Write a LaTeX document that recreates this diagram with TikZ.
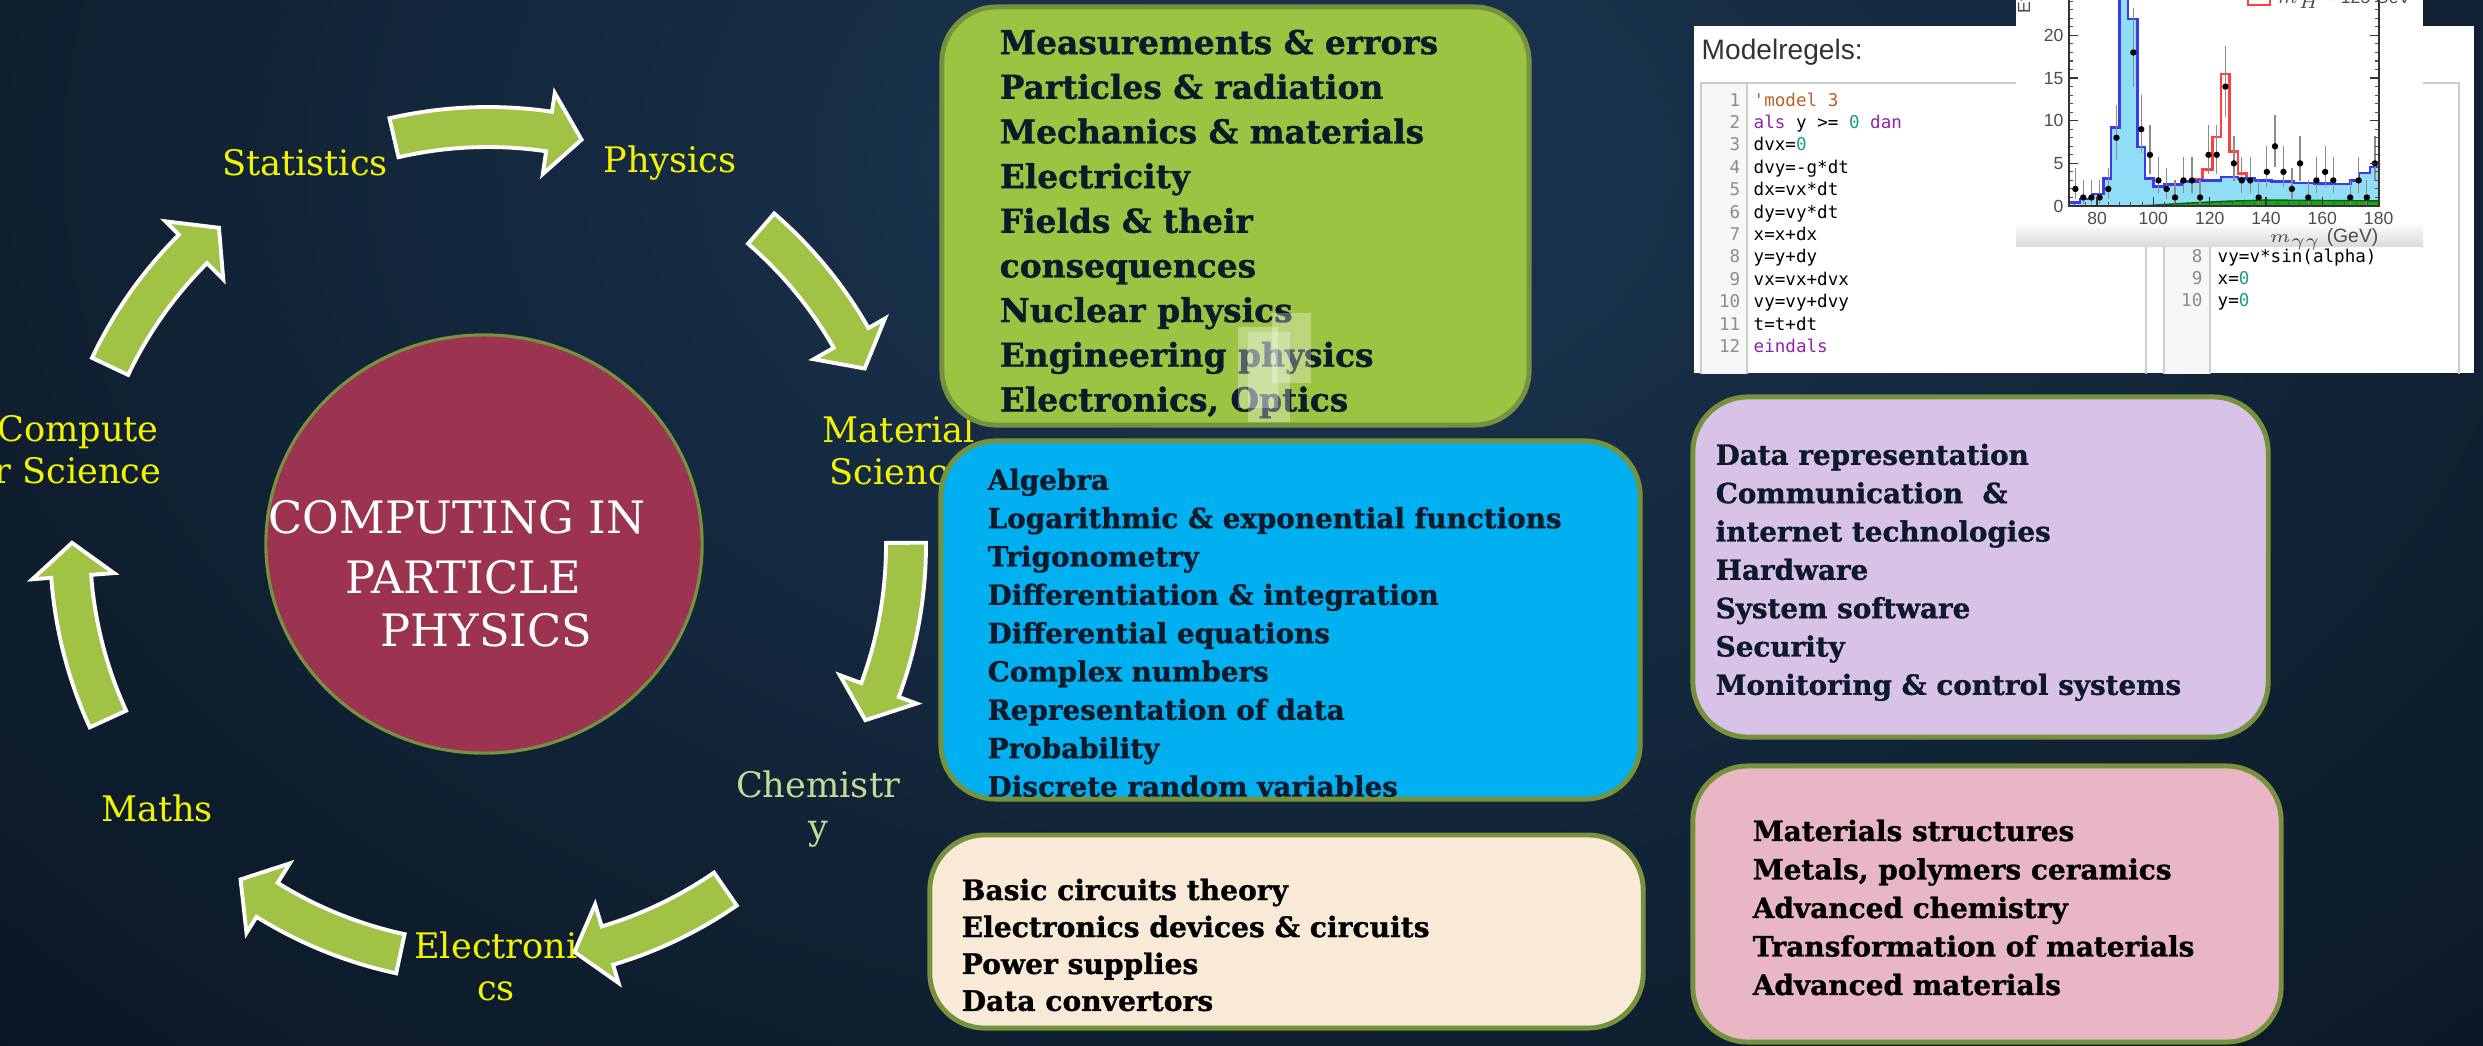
\documentclass[tikz,border=0pt]{standalone}
\usepackage{fontspec}
\setmainfont{DejaVu Serif}
\newfontfamily\heavyserif{DejaVu Serif}[FakeBold=1.0]
\newfontfamily\uisans{Liberation Sans}
\newfontfamily\codefont{DejaVu Sans Mono}[Ligatures=TeXOff]
\usetikzlibrary{shapes.geometric}

\definecolor{bgdark}{HTML}{060E17}
\definecolor{bglight}{HTML}{1B3652}
\definecolor{arrowgreen}{HTML}{A0C346}
\definecolor{boxedge}{HTML}{76923C}
\definecolor{labelyellow}{HTML}{F4F400}
\definecolor{chemcol}{HTML}{C5DB94}
\definecolor{centrefill}{HTML}{9C3350}
\definecolor{greenbox}{HTML}{9DC343}
\definecolor{bluebox}{HTML}{00B0F0}
\definecolor{creambox}{HTML}{F9EAD8}
\definecolor{purplebox}{HTML}{D9C2E8}
\definecolor{pinkbox}{HTML}{E8B6C4}
\definecolor{boxink}{HTML}{0C1A2A}
\definecolor{codestr}{HTML}{B8642A}
\definecolor{codekw}{HTML}{8E24AA}
\definecolor{codenum}{HTML}{16A085}
\definecolor{histcyan}{HTML}{8FDDF7}
\definecolor{histblue}{HTML}{3A3AF0}
\definecolor{histgreen}{HTML}{1DA31D}

\newcommand\hx[1]{(2097+((#1)-80)*2.816)}
\newcommand\hy[1]{(206-8.53*(#1))}

% curved block arrow on the cycle: start angle, tip angle (y axis points down)
\newcommand\cyclearrow[2]{%
  \pgfmathsetmacro\arrbase{#2-4.6}%
  \filldraw[cycarrow] plot[domain=#1:\arrbase,samples=25] ({488+438*cos(\x)},{545+438*sin(\x)})
    -- ({488+457*cos(\arrbase)},{545+457*sin(\arrbase)})
    -- ({488+416*cos(#2)},{545+416*sin(#2)})
    -- ({488+375*cos(\arrbase)},{545+375*sin(\arrbase)})
    -- plot[domain=\arrbase:#1,samples=25] ({488+398*cos(\x)},{545+398*sin(\x)}) -- cycle;}

\begin{document}
\begin{tikzpicture}[x=0.01cm,y=-0.01cm,
  cycarrow/.style={fill=arrowgreen, draw=white, line width=1.1pt, line join=miter},
  topicbox/.style={draw=boxedge, line width=1.4pt, rounded corners=0.55cm, inner sep=0pt},
  cyclelabel/.style={text=labelyellow, font=\fontsize{10}{12}\selectfont, align=center, inner sep=0pt},
  centretext/.style={text=white, font=\fontsize{12.7}{14}\selectfont, inner sep=0pt, anchor=west},
  boxtext/.style={anchor=north west, inner sep=0pt, align=left, text=boxink},
  codeline/.style={font=\codefont\fontsize{5}{6}\selectfont, inner sep=0pt, text=black},
  codeno/.style={font=\codefont\fontsize{5}{6}\selectfont, inner sep=0pt, text=black!45},
  ticklabel/.style={font=\uisans\fontsize{5}{6}\selectfont, inner sep=0pt, text=black!70},
  errbar/.style={draw=black!45, line width=0.35pt}]
\useasboundingbox (0,0) rectangle (2483,1045);
\clip (0,0) rectangle (2483,1045);

% background
\fill[bgdark] (0,0) rectangle (2483,1045);
\shade[inner color=bglight, outer color=bgdark] (1300,160) ellipse (2300 and 1600);

% cycle arrows
\cyclearrow{-103}{-77}
\cyclearrow{-49.2}{-25.1}
\cyclearrow{-0.3}{24.9}
\cyclearrow{55.4}{78}
\cyclearrow{102.1}{126.5}
\cyclearrow{155.4}{180.3}
\cyclearrow{205.3}{229.7}

% centre
\node[ellipse, draw=boxedge, line width=0.9pt, fill=centrefill, minimum width=4.36cm, minimum height=4.18cm] (centre) at (484,544) {};
\node[centretext] (cline1) at (268,517) {COMPUTING IN};
\node[centretext] (cline2) at (345,577) {PARTICLE};
\node[centretext] (cline3) at (380,630) {PHYSICS};

% cycle labels
\node[cyclelabel] (statistics) at (305,163) {Statistics};
\node[cyclelabel] (physics) at (670,163) {Physics};
\node[cyclelabel] (material) at (899,450) {Material\\Science};
\node[cyclelabel, text=chemcol] (chemistry) at (818,809) {Chemistr\\y};
\node[cyclelabel] (electronics) at (496,966) {Electroni\\cs};
\node[cyclelabel] (maths) at (157,808) {Maths};
\node[cyclelabel] (computer) at (78,450) {Compute\\r Science};

% topic boxes
\node[topicbox, fill=greenbox, minimum width=5.87cm, minimum height=4.18cm] (physbox) at (1235.5,216) {};
\node[boxtext, font=\heavyserif\bfseries\fontsize{9.35}{12.7}\selectfont] (phystext) at (999,29) {Measurements \& errors\\Particles \& radiation\\Mechanics \& materials\\Electricity\\Fields \& their\\consequences\\Nuclear physics\\Engineering physics\\Electronics, Optics};
\fill[white, opacity=0.3] (1238,327) rectangle (1278,408);
\fill[white, opacity=0.3] (1272,313) rectangle (1311,383);
\fill[white, opacity=0.3] (1248,332) rectangle (1290,422);

\node[topicbox, fill=bluebox, minimum width=6.99cm, minimum height=3.58cm] (mathbox) at (1290.5,620) {};
\node[boxtext, font=\heavyserif\bfseries\fontsize{7.9}{10.9}\selectfont] (mathtext) at (987,468) {Algebra\\Logarithmic \& exponential functions\\Trigonometry\\Differentiation \& integration\\Differential equations\\Complex numbers\\Representation of data\\Probability\\Discrete random variables};

\node[topicbox, fill=creambox, minimum width=7.13cm, minimum height=1.93cm] (elecbox) at (1286.5,931.5) {};
\node[boxtext, text=black, font=\heavyserif\bfseries\fontsize{8}{10.5}\selectfont] (electext) at (961,878) {Basic circuits theory\\Electronics devices \& circuits\\Power supplies\\Data convertors};

\node[topicbox, fill=purplebox, minimum width=5.75cm, minimum height=3.40cm] (compbox) at (1980.5,567) {};
\node[boxtext, font=\heavyserif\bfseries\fontsize{7.9}{10.9}\selectfont] (comptext) at (1715,443) {Data representation\\Communication \ \&\\internet technologies\\Hardware\\System software\\Security\\Monitoring \& control systems};

\node[topicbox, fill=pinkbox, minimum width=5.88cm, minimum height=2.76cm] (matbox) at (1987,904) {};
\node[boxtext, text=black, font=\heavyserif\bfseries\fontsize{7.95}{10.95}\selectfont] (mattext) at (1752,819) {Materials structures\\Metals, polymers ceramics\\Advanced chemistry\\Transformation of materials\\Advanced materials};

% code screenshot
\fill[white] (1694,26) rectangle (2474,373);
\node[anchor=west, inner sep=0pt, font=\uisans\fontsize{8}{9}\selectfont, text=black!80] (modelregels) at (1701,52) {Modelregels:};
\begin{scope}
  \clip (1694,26) rectangle (2474,373);
  \fill[black!3] (1701,83) rectangle (1747,390);
  \draw[black!20, line width=0.4pt] (1701,390) -- (1701,83) -- (2146,83) -- (2146,390) (1747,83) -- (1747,390);
  \fill[black!3] (2164,83) rectangle (2210,390);
  \draw[black!20, line width=0.4pt] (2164,390) -- (2164,83) -- (2459,83) -- (2459,390) (2210,83) -- (2210,390);
\end{scope}
\foreach \i/\txt in {1/{\textcolor{codestr}{'model 3}},2/{\textcolor{codekw}{als} y >= \textcolor{codenum}{0} \textcolor{codekw}{dan}},3/{dvx=\textcolor{codenum}{0}},4/{dvy=-g*dt},5/{dx=vx*dt},6/{dy=vy*dt},7/{x=x+dx},8/{y=y+dy},9/{vx=vx+dvx},10/{vy=vy+dvy},11/{t=t+dt},12/{\textcolor{codekw}{eindals}}}{
  \node[codeno, anchor=base east] (lno\i) at (1741,{106+22.4*(\i-1)}) {\i};
  \node[codeline, anchor=base west] (code\i) at (1753,{106+22.4*(\i-1)}) {\txt};
}
\foreach \i/\j/\txt in {8/0/{vy=v*sin(alpha)},9/1/{x=\textcolor{codenum}{0}},10/2/{y=\textcolor{codenum}{0}}}{
  \node[codeno, anchor=base east] (lnob\i) at (2203,{262+22.4*\j}) {\i};
  \node[codeline, anchor=base west] (codeb\i) at (2217,{262+22.4*\j}) {\txt};
}

% histogram screenshot
\fill[white] (2016,-5) rectangle (2423,246);
\shade[top color=white, bottom color=black!14] (2016,222) rectangle (2423,246);
\def\bluebins{70.5/74/0.4,74/78.5/0.8,78.5/82.3/1.4,82.3/85/3.2,85/88/9.2,88/91/27,91/94.3/21.9,94.3/97/6.9,97/100/3.2,100/104/2.3,104/110/2.5,110/116/2.9,116/124/3.0,124/130/3.4,130/136/3.2,136/142/3.0,142/150/2.9,150/157/2.7,157/164/2.65,164/170/2.6,170/173/3.0,173/177/3.9,177/180/4.6}
\begin{scope}
  \clip (2069,-5) rectangle (2379,206);
  \fill[histcyan] ({\hx{70.5}},{\hy{0}}) \foreach \a/\b/\v in \bluebins { -- ({\hx{\a}},{\hy{\v}}) -- ({\hx{\b}},{\hy{\v}}) } -- ({\hx{180}},{\hy{0}}) -- cycle;
  \filldraw[fill=histgreen, draw=green!40!black, line width=0.4pt] ({\hx{95}},{\hy{0}}) -- ({\hx{110}},{\hy{0.3}}) -- ({\hx{125}},{\hy{0.55}}) -- ({\hx{140}},{\hy{0.7}}) -- ({\hx{180}},{\hy{0.6}}) -- ({\hx{180}},{\hy{0}}) -- cycle;
  \draw[red!75, line width=0.7pt] ({\hx{114}},{\hy{3.1}}) -- ({\hx{117.5}},{\hy{3.1}}) -- ({\hx{117.5}},{\hy{4.3}}) -- ({\hx{121}},{\hy{4.3}}) -- ({\hx{121}},{\hy{8.1}}) -- ({\hx{124}},{\hy{8.1}}) -- ({\hx{124}},{\hy{15.5}}) -- ({\hx{127}},{\hy{15.5}}) -- ({\hx{127}},{\hy{6.4}}) -- ({\hx{130}},{\hy{6.4}}) -- ({\hx{130}},{\hy{3.8}}) -- ({\hx{133}},{\hy{3.8}}) -- ({\hx{133}},{\hy{3.4}});
  \draw[histblue, line width=0.7pt] ({\hx{70.5}},{\hy{0.4}}) \foreach \a/\b/\v in \bluebins { -- ({\hx{\a}},{\hy{\v}}) -- ({\hx{\b}},{\hy{\v}}) };
  \foreach \m/\n in {72.3/2,75.1/1,78/1,80.9/1,84/2,86.9/8,89.9/30,92.9/18,95.7/9,98.8/6,101.8/3,104.7/2,107.7/1,110.7/3,113.7/3,116.6/1,119.6/6,122.5/6,125.6/14,128.6/5,131.4/3,134.4/3,137.4/1,140.3/4,143.2/7,146.2/4,149.2/2,152.1/5,155/1,157.9/3,161/4,163.9/3,169.9/1,172.9/3,175.8/1,178.7/5}{
    \draw[errbar] ({\hx{\m}},{\hy{max(\n-sqrt(\n)+0.2,0)}}) -- ({\hx{\m}},{\hy{\n+sqrt(\n)+1}});
    \fill[black] ({\hx{\m}},{\hy{\n}}) circle (3.2);
  }
\end{scope}
\draw[black!80, line width=0.5pt] (2069,-5) -- (2069,206) -- (2379,206) -- (2379,-5);
\foreach \v in {0,1,...,24}{
  \draw[black!70, line width=0.3pt] (2069,{\hy{\v}}) -- (2073,{\hy{\v}}) (2379,{\hy{\v}}) -- (2375,{\hy{\v}});
}
\foreach \v in {0,5,...,20}{
  \draw[black!80, line width=0.4pt] (2069,{\hy{\v}}) -- (2078,{\hy{\v}}) (2379,{\hy{\v}}) -- (2370,{\hy{\v}});
  \node[ticklabel, anchor=east] (ylab\v) at (2064,{\hy{\v}}) {\v};
}
\foreach \m in {72,76,...,180}{
  \draw[black!70, line width=0.3pt] ({\hx{\m}},206) -- ({\hx{\m}},202);
}
\foreach \m in {80,100,...,180}{
  \draw[black!80, line width=0.4pt] ({\hx{\m}},206) -- ({\hx{\m}},197);
  \node[ticklabel] (xlab\m) at ({\hx{\m}},218) {\m};
}
\node[ticklabel, anchor=east, font=\uisans\fontsize{5.5}{6}\selectfont] (xtitle) at (2379,239) {$m_{\gamma\gamma}$ (GeV)};
\node[ticklabel, rotate=90, anchor=base west] (ytitle) at (2030,14) {Events / 3 GeV};
\draw[red!75, line width=0.7pt] (2248,-10) -- (2248,5) -- (2270,5) -- (2270,-10);
\node[ticklabel, anchor=base west] (legend) at (2276,3) {$m_H$ = 125 GeV};
\end{tikzpicture}
\end{document}
